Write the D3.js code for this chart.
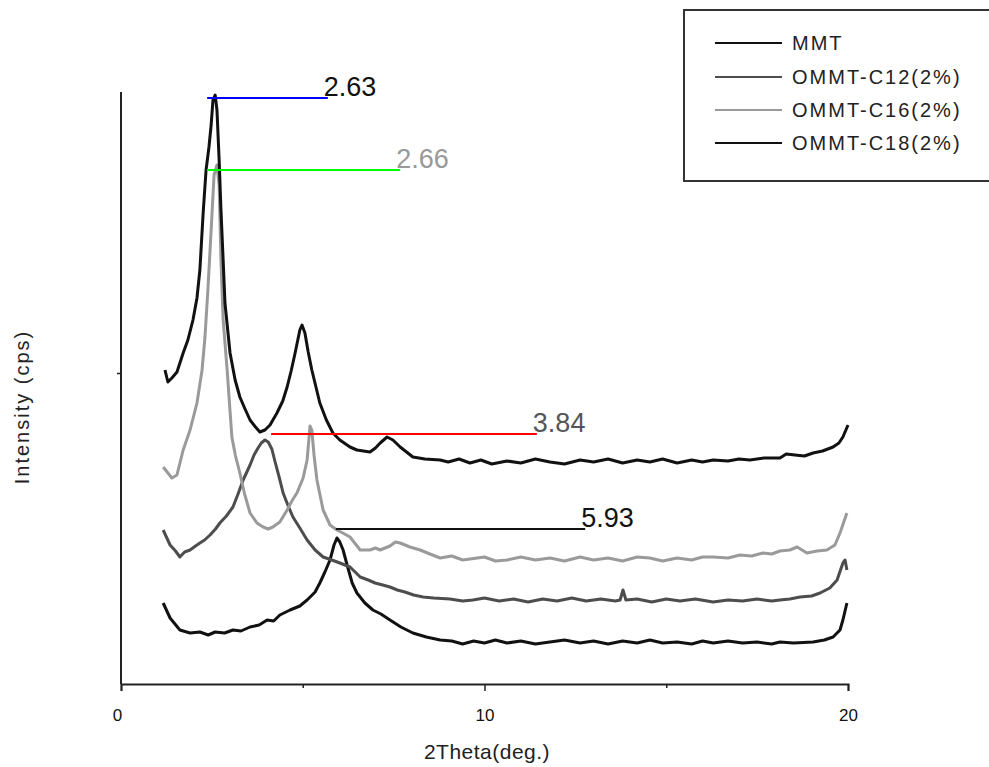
<!DOCTYPE html>
<html>
<head>
<meta charset="utf-8">
<script src="https://cdn.jsdelivr.net/npm/d3@7"></script>
<style>
  body { margin: 0; background: #fff; }
  text { font-family: "Liberation Sans", Arial, sans-serif; }
  .x-axis text { font-size: 17px; }
</style>
</head>
<body>
<div id="chart"></div>
<script>
// XRD patterns: [2theta, intensity (arb.)]
var mmt = [
  [1.16,81],[1.35,66],[1.62,54],[1.90,51],[2.17,52],[2.40,49],[2.59,52],[2.85,51],[3.08,54],[3.30,53],
  [3.55,57],[3.80,59],[4.02,64],[4.20,63],[4.37,69],[4.65,74],[4.92,78],[5.12,84],[5.34,92],[5.47,101],
  [5.61,112],[5.75,124],[5.86,139],[5.94,146],[6.02,142],[6.11,134],[6.22,119],[6.36,101],[6.49,91],
  [6.71,81],[6.93,74],[7.15,70],[7.40,64],[7.70,57],[8.03,51],[8.40,47],[8.78,44],[9.10,43],[9.40,40],
  [9.70,43],[10.0,41],[10.3,44],[10.62,41],[11.0,43],[11.4,40],[11.8,42],[12.2,44],[12.63,41],[13.0,43],
  [13.4,40],[13.8,43],[14.2,41],[14.55,44],[14.9,41],[15.3,42],[15.7,40],[16.0,43],[16.29,41],[16.7,43],
  [17.1,41],[17.5,42],[17.9,40],[18.13,42],[18.5,41],[19.04,42],[19.35,44],[19.59,47],[19.78,54],
  [19.86,64],[19.97,81]
];
var c12 = [
  [1.16,154],[1.35,139],[1.50,133],[1.62,127],[1.75,132],[1.90,134],[2.05,138],[2.17,141],[2.30,144],
  [2.45,149],[2.60,155],[2.72,161],[2.90,168],[3.08,177],[3.22,190],[3.36,204],[3.55,219],[3.66,229],
  [3.77,236],[3.86,241],[3.96,244],[4.05,242],[4.15,235],[4.24,222],[4.35,207],[4.46,191],[4.60,178],
  [4.73,167],[4.92,156],[5.12,144],[5.34,134],[5.56,127],[5.80,124],[6.02,121],[6.30,117],[6.58,107],
  [6.80,104],[6.99,101],[7.20,99],[7.40,97],[7.60,94],[7.81,92],[8.05,89],[8.31,87],[8.60,86],[9.05,85],
  [9.40,83],[9.68,84],[10.0,86],[10.4,83],[10.8,85],[11.2,82],[11.6,85],[12.0,83],[12.4,86],[12.8,83],
  [13.2,85],[13.6,83],[13.73,84],[13.81,94],[13.89,84],[14.2,85],[14.6,82],[15.0,85],[15.38,83],
  [15.8,85],[16.29,82],[16.7,84],[17.1,83],[17.5,85],[17.9,83],[18.13,84],[18.4,85],[18.68,87],
  [19.0,88],[19.23,91],[19.50,96],[19.70,104],[19.86,121],[19.92,124],[19.97,114]
];
var c16 = [
  [1.16,217],[1.27,212],[1.40,206],[1.54,209],[1.71,234],[1.90,254],[2.09,281],[2.23,314],[2.31,347],
  [2.39,394],[2.48,454],[2.56,509],[2.64,519],[2.70,499],[2.75,424],[2.81,364],[2.92,314],[3.05,247],
  [3.15,228],[3.27,211],[3.40,190],[3.55,171],[3.74,161],[3.91,157],[4.05,155],[4.18,157],[4.37,162],
  [4.57,174],[4.70,183],[4.84,191],[5.01,206],[5.12,224],[5.20,258],[5.25,254],[5.31,229],[5.39,204],
  [5.56,174],[5.75,159],[5.94,154],[6.10,151],[6.30,147],[6.45,140],[6.58,134],[6.85,134],[7.00,136],
  [7.13,134],[7.40,138],[7.55,142],[7.68,141],[7.95,137],[8.23,134],[8.50,130],[8.78,126],[9.10,128],
  [9.40,124],[9.60,125],[10.0,127],[10.3,123],[10.62,124],[11.0,127],[11.4,124],[11.80,126],[12.2,123],
  [12.63,127],[13.0,124],[13.4,126],[13.8,123],[14.2,127],[14.55,126],[14.9,123],[15.3,126],[15.7,124],
  [16.0,127],[16.29,127],[16.7,126],[17.03,129],[17.35,128],[17.66,131],[17.90,130],[18.13,133],
  [18.40,134],[18.60,137],[18.87,131],[19.15,133],[19.42,134],[19.64,139],[19.78,151],[19.97,171]
];
var c18 = [
  [1.21,314],[1.29,302],[1.40,306],[1.54,312],[1.71,331],[1.84,344],[1.98,364],[2.09,386],[2.17,414],
  [2.26,471],[2.34,514],[2.42,537],[2.48,559],[2.53,584],[2.59,589],[2.64,574],[2.70,524],[2.75,474],
  [2.81,424],[2.86,381],[3.00,331],[3.14,304],[3.27,287],[3.40,276],[3.55,264],[3.70,257],[3.82,252],
  [3.96,254],[4.10,259],[4.29,271],[4.45,283],[4.57,297],[4.68,313],[4.79,331],[4.92,354],[4.98,359],
  [5.06,351],[5.15,332],[5.25,314],[5.47,281],[5.65,264],[5.83,251],[6.02,244],[6.30,237],[6.49,234],
  [6.85,232],[7.00,236],[7.13,241],[7.32,247],[7.48,244],[7.68,237],[8.03,227],[8.36,225],[8.78,224],
  [9.00,222],[9.30,225],[9.60,221],[9.90,224],[10.2,220],[10.62,223],[11.0,221],[11.4,225],[11.8,222],
  [12.2,220],[12.63,224],[13.0,222],[13.4,225],[13.8,221],[14.2,224],[14.55,222],[14.9,225],[15.3,221],
  [15.7,224],[16.0,222],[16.29,224],[16.7,223],[17.0,225],[17.3,224],[17.7,226],[18.13,226],[18.3,230],
  [18.54,229],[18.8,228],[19.04,231],[19.3,233],[19.59,237],[19.75,241],[19.86,247],[20.0,259]
];

var seriesNames = ['MMT', 'OMMT-C12(2%)', 'OMMT-C16(2%)', 'OMMT-C18(2%)'];
var seriesColors = ['#111111', '#4d4d4d', '#9a9a9a', '#111111'];

// peak markers: [start 2theta, end 2theta, intensity, label]
var peakLines = [
  [2.37, 5.69, 586, '2.63'],
  [2.37, 7.68, 514, '2.66'],
  [4.13, 11.44, 250, '3.84'],
  [5.91, 12.77, 155, '5.93']
];
var peakLineColors = ['#0000ff', '#00ff00', '#ff0000', '#111111'];
var peakTextColors = ['#111111', '#999999', '#555555', '#111111'];

var xMajorTicks = [0, 10, 20];
var xMinorTicks = [5, 15];
var yTicks = [311];

var width = 989, height = 767;

var svg = d3.select('#chart').append('svg')
  .attr('width', width)
  .attr('height', height);

var x = d3.scaleLinear().domain([0, 20]).range([121, 848]);
var y = d3.scaleLinear().domain([0, 592]).range([684, 92]);

// curves
var line = d3.line()
  .x(function(d) { return x(d[0]); })
  .y(function(d) { return y(d[1]); });

var allSeries = [mmt, c12, c16, c18];
svg.append('g').attr('class', 'curves')
  .selectAll('path')
  .data(allSeries)
  .enter()
  .append('path')
  .attr('d', line)
  .attr('fill', 'none')
  .attr('stroke', function(d, i) { return seriesColors[i]; })
  .attr('stroke-width', 3)
  .attr('stroke-linejoin', 'round');

// axes
var xMajor = d3.axisBottom(x).tickValues(xMajorTicks).tickSize(7).tickPadding(18)
  .tickFormat(d3.format('d'));
var xMinor = d3.axisBottom(x).tickValues(xMinorTicks).tickSize(4).tickFormat('');

svg.append('g').attr('transform', 'translate(0,684)').call(xMinor)
  .call(function(g) { g.select('.domain').remove(); })
  .selectAll('line').attr('stroke', '#222').attr('stroke-width', 1.5);

var gx = svg.append('g').attr('class', 'x-axis').attr('transform', 'translate(0,684)').call(xMajor);
gx.attr('font-size', null);
gx.select('.domain').attr('stroke', '#222').attr('stroke-width', 2);
gx.selectAll('line').attr('stroke', '#222').attr('stroke-width', 1.5);
gx.selectAll('text')
  .attr('fill', '#111')
  .attr('transform', function(d) { return d === 0 ? 'translate(-4,0)' : null; });

var gy = svg.append('g').attr('transform', 'translate(121,0)')
  .call(d3.axisLeft(y).tickValues(yTicks).tickSize(4).tickFormat(''));
gy.select('.domain').attr('stroke', '#222').attr('stroke-width', 2).attr('d', 'M0,92V684');
gy.selectAll('line').attr('stroke', '#222').attr('stroke-width', 1.5);

// axis titles
svg.append('text')
  .attr('x', 487).attr('y', 759)
  .attr('text-anchor', 'middle')
  .style('font-size', '21px')
  .style('letter-spacing', '0.5px')
  .attr('fill', '#222')
  .text('2Theta(deg.)');

svg.append('text')
  .attr('transform', 'translate(29,407) rotate(-90)')
  .attr('text-anchor', 'middle')
  .style('font-size', '20px')
  .style('letter-spacing', '2px')
  .attr('fill', '#222')
  .text('Intensity (cps)');

// peak markers
var peaks = svg.append('g').attr('class', 'peaks');
peaks.selectAll('line')
  .data(peakLines)
  .enter()
  .append('line')
  .attr('x1', function(d) { return x(d[0]); })
  .attr('x2', function(d) { return x(d[1]); })
  .attr('y1', function(d) { return y(d[2]); })
  .attr('y2', function(d) { return y(d[2]); })
  .attr('stroke', function(d, i) { return peakLineColors[i]; })
  .attr('stroke-width', 2);

peaks.selectAll('text')
  .data(peakLines)
  .enter()
  .append('text')
  .attr('x', function(d) { return x(d[1]) - 4; })
  .attr('y', function(d) { return y(d[2]) - 2; })
  .style('font-size', '27px')
  .attr('fill', function(d, i) { return peakTextColors[i]; })
  .text(function(d) { return d[3]; });

// legend
var legend = svg.append('g').attr('class', 'legend');
legend.append('rect')
  .attr('x', 684).attr('y', 10)
  .attr('width', 320).attr('height', 171)
  .attr('fill', '#fff')
  .attr('stroke', '#333')
  .attr('stroke-width', 2);

var legendRowY = [43, 77, 110, 143];
var item = legend.selectAll('g.item')
  .data(seriesNames)
  .enter()
  .append('g')
  .attr('class', 'item')
  .attr('transform', function(d, i) { return 'translate(0,' + legendRowY[i] + ')'; });

item.append('line')
  .attr('x1', 715).attr('x2', 782)
  .attr('stroke', function(d, i) { return seriesColors[i]; })
  .attr('stroke-width', 2);

item.append('text')
  .attr('x', 792).attr('dy', '0.36em')
  .style('font-size', '20px')
  .style('letter-spacing', '2px')
  .attr('fill', '#222')
  .text(function(d) { return d; });
</script>
</body>
</html>
